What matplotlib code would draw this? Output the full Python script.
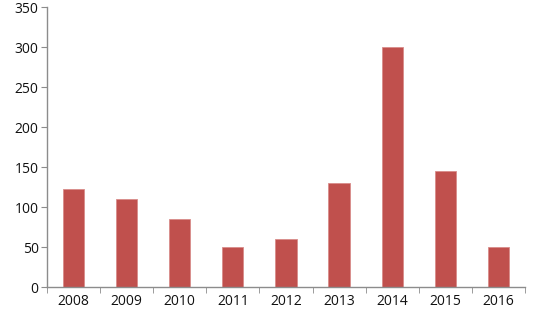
import matplotlib
matplotlib.use("Agg")
import matplotlib.pyplot as plt
import numpy as np

# data
years = ["2008", "2009", "2010", "2011", "2012", "2013", "2014", "2015", "2016"]
values = [123, 110, 85, 50, 60, 130, 300, 145, 50]

plt.rcParams['font.family'] = ['Open Sans', 'DejaVu Sans']

fig = plt.figure(figsize=(5.34, 3.09), dpi=100)
ax = fig.add_axes([0.088, 0.071, 0.895, 0.906])

x = np.arange(len(years))
ax.bar(x, values, width=0.4, color="#C0504D", edgecolor="#D98C8A", linewidth=0.6, zorder=2)

ax.set_xlim(-0.5, len(years) - 0.5)
ax.set_ylim(0, 350)
ax.set_yticks(np.arange(0, 351, 50))
ax.set_xticks(x)
ax.set_xticklabels(years)
ax.set_xticks(np.arange(-0.5, len(years), 1), minor=True)

axis_grey = "#8C8C8C"
for side in ["top", "right"]:
    ax.spines[side].set_visible(False)
for side in ["left", "bottom"]:
    ax.spines[side].set_color(axis_grey)
    ax.spines[side].set_linewidth(1.0)

ax.tick_params(axis="x", which="major", length=0, pad=5, labelsize=10, colors="#111111")
ax.tick_params(axis="x", which="minor", length=4, color=axis_grey, direction="out")
ax.tick_params(axis="y", length=4, color=axis_grey, direction="out", labelsize=10,
               labelcolor="#111111", pad=2)

fig.savefig("out.png", dpi=100)
